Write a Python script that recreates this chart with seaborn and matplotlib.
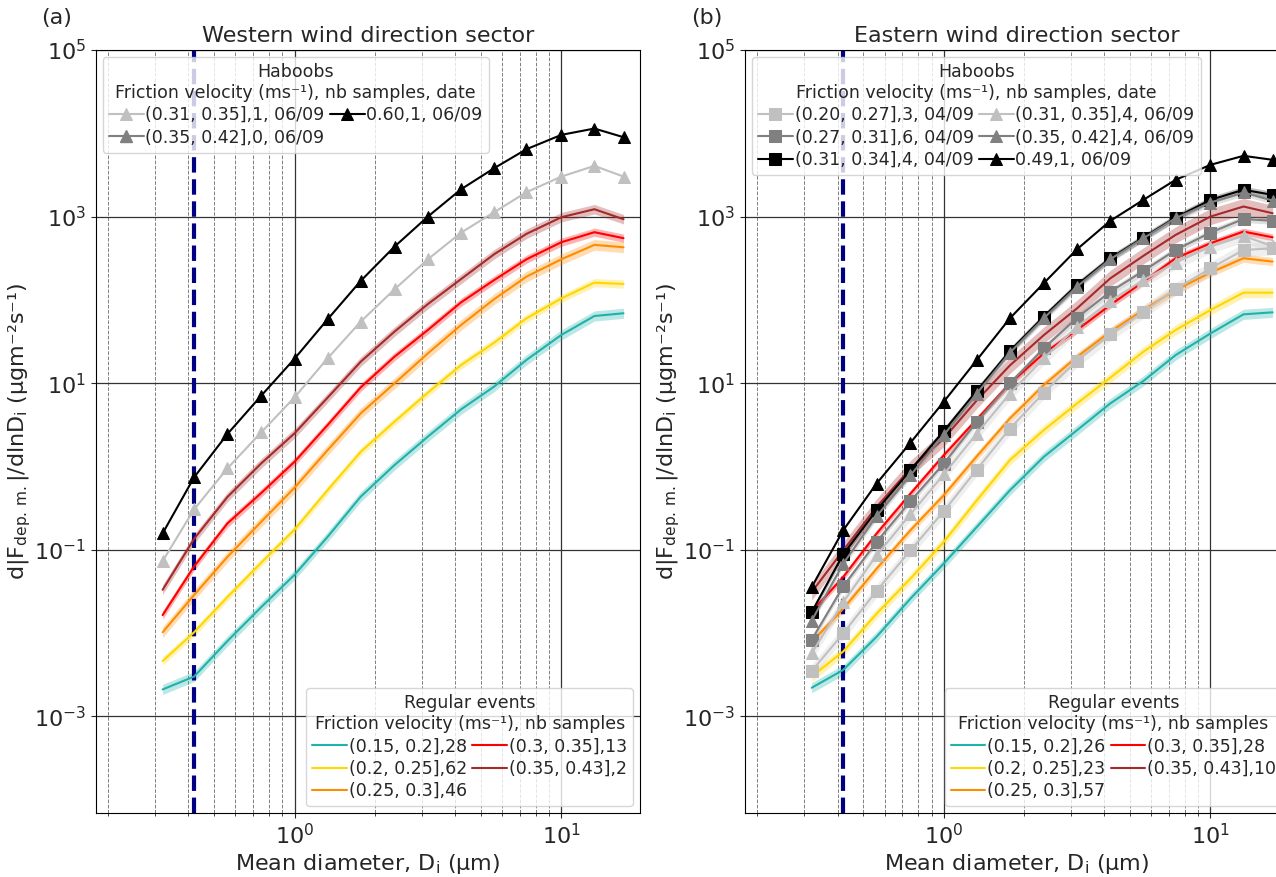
import numpy as np
import pandas as pd
import matplotlib
matplotlib.use('Agg')
import matplotlib.pyplot as plt
import seaborn as sns

sns.set_style('ticks')
plt.rcParams['font.family'] = ['DejaVu Sans']
plt.rcParams['mathtext.default'] = 'regular'
plt.rcParams['font.size'] = 16

# mean diameters of the size bins (um)
diam = [0.32, 0.42, 0.56, 0.75, 1.0, 1.33, 1.77, 2.37, 3.16, 4.21, 5.6, 7.4, 10.0, 13.3, 17.1]

reg_colors = ['lightseagreen', 'gold', 'darkorange', 'red', 'brown']

# ---- Western sector ----
w_reg_labels = ['(0.15, 0.2],28', '(0.2, 0.25],62', '(0.25, 0.3],46', '(0.3, 0.35],13', '(0.35, 0.43],2']
w_teal = [0.0021, 0.0030, 0.008, 0.0205, 0.050, 0.143, 0.434, 1.04, 2.28, 4.85, 9.1, 19, 37.9, 64, 69]
w_yellow = [0.0046, 0.0102, 0.027, 0.070, 0.175, 0.52, 1.5, 3.45, 7.7, 16.5, 30.6, 60, 104, 161, 155]
w_orange = [0.0102, 0.0286, 0.082, 0.217, 0.556, 1.57, 4.34, 9.96, 22.8, 50, 102, 190, 307, 457, 428]
w_red = [0.0164, 0.063, 0.207, 0.48, 1.14, 3.14, 8.9, 20.8, 43.5, 93.5, 173, 307, 492, 649, 550]
w_brown = [0.033, 0.135, 0.43, 1.09, 2.5, 6.7, 18.1, 41.6, 89, 178, 353, 620, 982, 1225, 929]
w_reg_err = [1.15, 1.12, 1.16, 1.12, 1.14]

w_hab_labels = ['(0.31, 0.35],1, 06/09', '(0.35, 0.42],0, 06/09', '0.60,1, 06/09']
w_hab_colors = ['silver', 'gray', 'black']
w_hab1 = [0.073, 0.305, 0.95, 2.57, 6.76, 19.9, 54.8, 134, 307, 642, 1130, 1960, 3020, 4060, 3020]
w_hab2 = []  # no samples
w_hab3 = [0.157, 0.74, 2.45, 7.08, 19.7, 58.5, 169, 436, 1000, 2130, 3810, 6440, 9570, 11400, 8970]

# ---- Eastern sector ----
e_reg_labels = ['(0.15, 0.2],26', '(0.2, 0.25],23', '(0.25, 0.3],57', '(0.3, 0.35],28', '(0.35, 0.43],10']
e_teal = [0.0022, 0.0036, 0.009, 0.0258, 0.068, 0.187, 0.516, 1.3, 2.72, 5.7, 10.6, 21.7, 39.5, 67, 70.8]
e_yellow = [0.0030, 0.0060, 0.017, 0.0448, 0.124, 0.39, 1.19, 2.72, 5.7, 11.6, 23.8, 43.4, 75.5, 122, 122]
e_orange = [0.0078, 0.0195, 0.059, 0.171, 0.45, 1.32, 3.76, 9.46, 20.7, 41.4, 75.5, 131, 212, 316, 288]
e_red = [0.018, 0.047, 0.156, 0.47, 1.36, 3.66, 9.9, 22.7, 43.4, 86.7, 165, 316, 478, 660, 564]
e_brown = [0.031, 0.098, 0.326, 0.94, 2.16, 6.2, 16.3, 37.6, 79, 181, 337, 602, 1000, 1320, 1096]
e_reg_err = [1.15, 1.15, 1.12, 1.1, 1.25]

e_hab_labels = ['(0.20, 0.27],3, 04/09', '(0.27, 0.31],6, 04/09', '(0.31, 0.34],4, 04/09',
                '(0.31, 0.35],4, 06/09', '(0.35, 0.42],4, 06/09', '0.49,1, 06/09']
e_hab_colors = ['silver', 'gray', 'black', 'silver', 'gray', 'black']
e_hab_markers = ['s', 's', 's', '^', '^', '^']
e_sq_light = [0.0035, 0.0099, 0.032, 0.098, 0.289, 0.916, 2.85, 7.65, 18.6, 38.5, 72, 134, 239, 397, 416]
e_sq_gray = [0.0083, 0.0362, 0.124, 0.381, 1.08, 3.43, 9.9, 26.1, 61, 125, 222, 397, 642, 937, 887]
e_sq_black = [0.0178, 0.088, 0.297, 0.9, 2.65, 8.09, 24.3, 62.8, 151, 316, 559, 973, 1585, 2100, 1820]
e_tri_light = [0.0057, 0.0235, 0.0855, 0.266, 0.80, 2.48, 7.5, 19.8, 47.5, 97, 173, 280, 436, 586, 441]
e_tri_gray = [0.0141, 0.068, 0.252, 0.78, 2.37, 7.5, 23.2, 60, 144, 307, 548, 955, 1473, 1945, 1557]
e_tri_black = [0.0356, 0.171, 0.622, 1.92, 5.97, 18.9, 60, 158, 405, 887, 1585, 2760, 4180, 5360, 4800]
e_hab_err = [1.2, 1.1, 1.1, 1.2, 1.1, None]

cut_diam = 0.42

ylab = r'd|F$_{dep.\,m.}$|/dlnD$_i$ (μgm⁻²s⁻¹)'
xlab = r'Mean diameter, D$_i$ (μm)'

LEG_KW = dict(ncol=2, fontsize=12.5, title_fontsize=12.5, columnspacing=0.3,
              handletextpad=0.1, handlelength=2.0, borderaxespad=0.4,
              labelspacing=0.25, borderpad=0.35)


def draw_panel(ax, reg, reg_labels, reg_err, hab, hab_labels, hab_colors, hab_markers, hab_err,
               title, tag):
    reg_handles = []
    for vals, lab, col, err in zip(reg, reg_labels, reg_colors, reg_err):
        df = pd.DataFrame({'d': diam, 'v': vals})
        ax.fill_between(diam, np.array(vals) / err, np.array(vals) * err,
                        color=col, alpha=0.3, lw=0)
        sns.lineplot(data=df, x='d', y='v', ax=ax, color=col, lw=1.5, legend=False)
        ax.lines[-1].set_label(lab)
        reg_handles.append(ax.lines[-1])

    hab_handles = []
    for vals, lab, col, mk, err in zip(hab, hab_labels, hab_colors, hab_markers, hab_err):
        if len(vals) == 0:
            h, = ax.plot([], [], color=col, marker=mk, ms=8, lw=1.5, label=lab)
            hab_handles.append(h)
            continue
        df = pd.DataFrame({'d': diam, 'v': vals})
        if err is not None:
            ax.fill_between(diam, np.array(vals) / err, np.array(vals) * err,
                            color=col, alpha=0.25, lw=0)
        sns.lineplot(data=df, x='d', y='v', ax=ax, color=col, lw=1.5, marker=mk,
                     markersize=8, markeredgecolor=col, legend=False)
        ax.lines[-1].set_label(lab)
        hab_handles.append(ax.lines[-1])

    ax.axvline(cut_diam, color='navy', ls='--', lw=3, zorder=1.5)

    ax.set_xscale('log')
    ax.set_yscale('log')
    ax.set_xlim(0.18, 19.7)
    ax.set_ylim(6.9e-5, 1e5)
    ax.set_yticks([1e-3, 1e-1, 1e1, 1e3, 1e5])
    ax.yaxis.set_minor_locator(matplotlib.ticker.NullLocator())
    ax.grid(which='major', color='#333333', lw=0.9, ls='-')
    ax.grid(which='minor', axis='x', color='gray', lw=0.7, ls='--')
    ax.tick_params(labelsize=16)
    for s in ax.spines.values():
        s.set_color('black')
    ax.set_xlabel(xlab, fontsize=16, labelpad=3)
    ax.set_ylabel(ylab, fontsize=16, labelpad=1)
    ax.set_title(title, fontsize=16)
    ax.text(-0.1, 1.0 + 32 / 763, tag, transform=ax.transAxes, fontsize=16,
            ha='left', va='center')

    leg1 = ax.legend(handles=hab_handles, loc='upper left',
                     title='Haboobs\nFriction velocity (ms⁻¹), nb samples, date', **LEG_KW)
    leg1.get_title().set_multialignment('center')
    ax.add_artist(leg1)
    leg2 = ax.legend(handles=reg_handles, loc='lower right',
                     title='Regular events\nFriction velocity (ms⁻¹), nb samples', **LEG_KW)
    leg2.get_title().set_multialignment('center')


fig = plt.figure(figsize=(12.76, 8.77), dpi=100)
ax1 = fig.add_axes([0.0752, 0.073, 0.4263, 0.870])
ax2 = fig.add_axes([0.5839, 0.073, 0.4263, 0.870])

draw_panel(ax1, [w_teal, w_yellow, w_orange, w_red, w_brown], w_reg_labels, w_reg_err,
           [w_hab1, w_hab2, w_hab3], w_hab_labels, w_hab_colors, ['^', '^', '^'],
           [None, None, None], 'Western wind direction sector', '(a)')

draw_panel(ax2, [e_teal, e_yellow, e_orange, e_red, e_brown], e_reg_labels, e_reg_err,
           [e_sq_light, e_sq_gray, e_sq_black, e_tri_light, e_tri_gray, e_tri_black],
           e_hab_labels, e_hab_colors, e_hab_markers, e_hab_err,
           'Eastern wind direction sector', '(b)')

fig.savefig('out.png', dpi=100)
